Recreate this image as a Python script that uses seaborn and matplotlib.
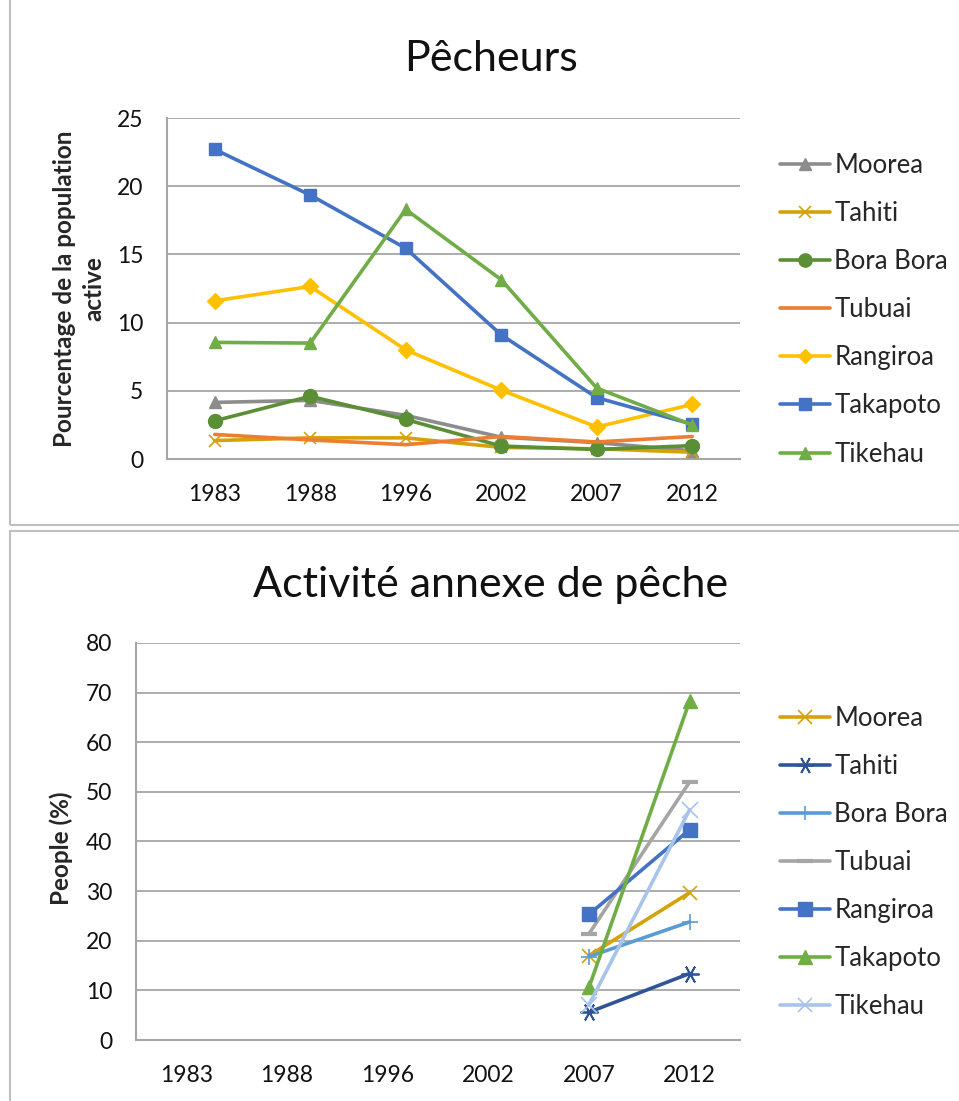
import numpy as np
import pandas as pd
import matplotlib
matplotlib.use("Agg")
import matplotlib.pyplot as plt
from matplotlib.patches import Rectangle
from matplotlib.lines import Line2D
import seaborn as sns

years = ["1983", "1988", "1996", "2002", "2007", "2012"]

# Pêcheurs (% of active population)
peche_islands = ["Moorea", "Tahiti", "Bora Bora", "Tubuai", "Rangiroa", "Takapoto", "Tikehau"]
peche_moorea = [4.15, 4.3, 3.2, 1.6, 1.2, 0.6]
peche_tahiti = [1.35, 1.55, 1.55, 0.85, 0.75, 0.5]
peche_borabora = [2.8, 4.6, 2.9, 0.95, 0.7, 0.98]
peche_tubuai = [1.8, 1.4, 1.05, 1.65, 1.25, 1.65]
peche_rangiroa = [11.6, 12.65, 8.0, 5.05, 2.35, 4.0]
peche_takapoto = [22.7, 19.35, 15.45, 9.1, 4.5, 2.55]
peche_tikehau = [8.55, 8.5, 18.3, 13.15, 5.2, 2.5]

# Activité annexe de pêche (people %), only 2007 and 2012 reported
annexe_islands = ["Moorea", "Tahiti", "Bora Bora", "Tubuai", "Rangiroa", "Takapoto", "Tikehau"]
annexe_moorea = [np.nan, np.nan, np.nan, np.nan, 17.0, 29.7]
annexe_tahiti = [np.nan, np.nan, np.nan, np.nan, 5.6, 13.4]
annexe_borabora = [np.nan, np.nan, np.nan, np.nan, 16.8, 23.8]
annexe_tubuai = [np.nan, np.nan, np.nan, np.nan, 21.4, 52.0]
annexe_rangiroa = [np.nan, np.nan, np.nan, np.nan, 25.3, 42.4]
annexe_takapoto = [np.nan, np.nan, np.nan, np.nan, 10.6, 68.3]
annexe_tikehau = [np.nan, np.nan, np.nan, np.nan, 7.1, 46.4]

peche_values = [peche_moorea, peche_tahiti, peche_borabora, peche_tubuai,
                peche_rangiroa, peche_takapoto, peche_tikehau]
annexe_values = [annexe_moorea, annexe_tahiti, annexe_borabora, annexe_tubuai,
                 annexe_rangiroa, annexe_takapoto, annexe_tikehau]

# style per series: (color, marker, markersize, marker edge width)
peche_styles = [
    ("#8C8C8C", "^", 9, 1.0),
    ("#D4A20A", "x", 9, 1.2),
    ("#5A8F36", "o", 10, 1.0),
    ("#ED7D31", None, 0, 0),
    ("#FFC000", "D", 8, 1.0),
    ("#4472C4", "s", 9, 1.0),
    ("#70AD47", "^", 9, 1.0),
]
annexe_styles = [
    ("#D4A20A", "x", 10, 1.2),
    ("#2F5597", (6, 2, 90), 13, 1.3),
    ("#5B9BD5", "+", 11, 1.2),
    ("#A5A5A5", "_", 12, 3.0),
    ("#4472C4", "s", 10, 1.0),
    ("#70AD47", "^", 10, 1.0),
    ("#A9C4EB", "x", 11, 1.2),
]


def to_long(islands, values):
    rows = []
    for island, series in zip(islands, values):
        for pos, (year, value) in enumerate(zip(years, series)):
            rows.append({"island": island, "pos": pos, "year": year, "value": value})
    return pd.DataFrame(rows)


def draw_panel(ax, data, islands, styles, ymax, ystep, ylabel, label_xy,
               title_y, title, legend_top):
    handles = []
    for island, (color, marker, msize, mew) in zip(islands, styles):
        sub = data.loc[data["island"] == island].dropna(subset=["value"])
        sns.lineplot(data=sub, x="pos", y="value", ax=ax, color=color, lw=2.6,
                     marker=marker if marker else "", markersize=msize,
                     markeredgewidth=mew, markeredgecolor=color, markerfacecolor=color,
                     legend=False, zorder=3)
        handles.append(Line2D([0, 1], [0, 0], color=color, lw=2.6,
                              marker=marker if marker else "", markersize=msize * 0.95,
                              markeredgewidth=mew, markeredgecolor=color,
                              markerfacecolor=color, label=island))
    ax.set_xlim(-0.5, 5.5)
    ax.set_ylim(0, ymax)
    ax.set_xticks(range(len(years)))
    ax.set_xticklabels(years)
    ax.set_yticks(np.arange(0, ymax + 0.1, ystep))
    ax.set_xlabel("")
    ax.set_ylabel(ylabel, fontsize=17.5, fontweight="bold", linespacing=1.3)
    ax.yaxis.set_label_coords(*label_xy)
    ax.tick_params(axis="both", length=0, labelsize=16.5, colors="#111111")
    ax.tick_params(axis="x", pad=18)
    ax.tick_params(axis="y", pad=17)
    ax.grid(axis="y", color="#A6A6A6", lw=1.3)
    ax.grid(axis="x", visible=False)
    for side in ["top", "right"]:
        ax.spines[side].set_visible(False)
    for side in ["left", "bottom"]:
        ax.spines[side].set_color("#A6A6A6")
        ax.spines[side].set_linewidth(1.5)
    fig.text(0.512, title_y, title, ha="center", va="center", fontsize=31, color="#111111")
    fig.legend(handles=handles, loc="upper left", bbox_to_anchor=(0.803, legend_top),
               frameon=False, fontsize=18.5, handlelength=1.95, handletextpad=0.15,
               labelspacing=0.9, borderaxespad=0)


sns.set_theme(style="white")
plt.rcParams["font.family"] = ["Lato", "DejaVu Sans"]

fig = plt.figure(figsize=(9.59, 11.01), dpi=100)

# panel frames
fig.add_artist(Rectangle((0.0104, 0.5232), 1.2, 0.6, transform=fig.transFigure,
                         fill=False, edgecolor="#BFBFBF", lw=1.5))
fig.add_artist(Rectangle((0.0104, -0.5), 1.2, 0.5177 + 0.5, transform=fig.transFigure,
                         fill=False, edgecolor="#BFBFBF", lw=1.5))

ax_top = fig.add_axes([0.1741, 0.5831, 0.5975, 0.3097])
ax_bot = fig.add_axes([0.1418, 0.0554, 0.6298, 0.3606])

draw_panel(ax_top, to_long(peche_islands, peche_values), peche_islands, peche_styles,
           25, 5, "Pourcentage de la population\nactive", (-0.108, 0.5),
           0.946, "Pêcheurs", 0.8705)
draw_panel(ax_bot, to_long(annexe_islands, annexe_values), annexe_islands, annexe_styles,
           80, 10, "People (%)", (-0.104, 0.484),
           0.469, "Activité annexe de pêche", 0.3685)

fig.savefig("out.png", dpi=100)
